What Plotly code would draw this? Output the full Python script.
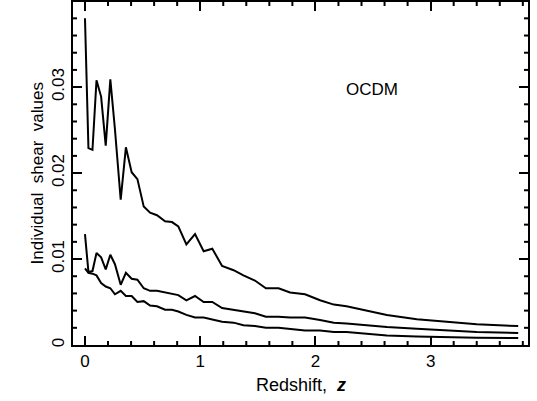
import plotly.graph_objects as go

z = [0, 0.03, 0.065, 0.10, 0.14, 0.18, 0.22, 0.26, 0.31, 0.355, 0.405, 0.455,
     0.51, 0.565, 0.625, 0.695, 0.755, 0.81, 0.88, 0.955, 1.03, 1.105, 1.19,
     1.29, 1.375, 1.475, 1.57, 1.68, 1.78, 1.91, 2.04, 2.16, 2.27, 2.45, 2.62,
     2.88, 3.14, 3.40, 3.76]

shear_top = [0.0380, 0.0229, 0.0227, 0.0308, 0.0289, 0.0232, 0.0309, 0.0251,
             0.0169, 0.0230, 0.0201, 0.0193, 0.0161, 0.0154, 0.0151, 0.0144,
             0.0143, 0.0138, 0.0117, 0.0129, 0.0109, 0.0112, 0.0092, 0.0087,
             0.0081, 0.0075, 0.0066, 0.0066, 0.0061, 0.0059, 0.0052, 0.0047,
             0.0045, 0.0040, 0.0035, 0.0030, 0.0027, 0.0024, 0.0022]

shear_mid = [0.0129, 0.0085, 0.0086, 0.0107, 0.0102, 0.0088, 0.0105, 0.0094,
             0.0070, 0.0084, 0.0077, 0.0076, 0.0066, 0.0063, 0.0063, 0.0061,
             0.0060, 0.0058, 0.0052, 0.0057, 0.0050, 0.0050, 0.0043, 0.0041,
             0.0039, 0.0037, 0.0033, 0.0033, 0.0032, 0.0032, 0.0029, 0.0026,
             0.0025, 0.0023, 0.0021, 0.0019, 0.0017, 0.0015, 0.0014]

shear_low = [0.0089, 0.0084, 0.0083, 0.0081, 0.0072, 0.0068, 0.0066, 0.0059,
             0.0063, 0.0057, 0.0057, 0.0050, 0.0051, 0.0046, 0.0045, 0.0041,
             0.0041, 0.0039, 0.0035, 0.0032, 0.0032, 0.0030, 0.0027, 0.0026,
             0.0023, 0.0022, 0.0020, 0.0020, 0.0019, 0.0017, 0.0017, 0.0015,
             0.0015, 0.0013, 0.0011, 0.0010, 0.0009, 0.00085, 0.0008]

x_minor = [round(0.2 * k, 1) for k in range(1, 20) if k % 5 != 0]
y_minor = [round(0.002 * k, 3) for k in range(1, 20) if k % 5 != 0]

X_RANGE = [-0.104, 3.845]
Y_RANGE = [0, 0.0399]

W, H = 537, 401
ML, MR, MT, MB = 73, 9, 2, 56
PW, PH = W - ML - MR, H - MT - MB
MIN_LEN = 4

FONT = "Liberation Sans, Arial, sans-serif"

fig = go.Figure()
for ys in (shear_top, shear_mid, shear_low):
    fig.add_trace(go.Scatter(x=z, y=ys, mode="lines",
                             line=dict(color="black", width=2),
                             showlegend=False, hoverinfo="skip"))

fig.add_annotation(x=2.487, y=0.0297, xref="x", yref="y", text="OCDM",
                   showarrow=False, font=dict(family=FONT, size=17, color="black"))

fig.add_annotation(x=0.5, y=0, xref="paper", yref="paper", text="Redshift,  <i><b>z</b></i>",
                   showarrow=False, xanchor="center", yanchor="middle", yshift=-40,
                   font=dict(family=FONT, size=18, color="black"))
fig.add_annotation(x=0, y=0.5, xref="paper", yref="paper", text="Individual  shear  values",
                   showarrow=False, xanchor="center", yanchor="middle", xshift=-36, textangle=-90,
                   font=dict(family=FONT, size=17, color="black"))

# short (minor) inside tick marks on all four sides, placed through the axis scales
for v in x_minor:
    fig.add_shape(type="line", xref="x", yref="paper", x0=v, x1=v, y0=0, y1=MIN_LEN / PH,
                  line=dict(color="black", width=2))
    fig.add_shape(type="line", xref="x", yref="paper", x0=v, x1=v, y0=1, y1=1 - MIN_LEN / PH,
                  line=dict(color="black", width=2))
for v in y_minor:
    fig.add_shape(type="line", xref="paper", yref="y", x0=0, x1=MIN_LEN / PW, y0=v, y1=v,
                  line=dict(color="black", width=2))
    fig.add_shape(type="line", xref="paper", yref="y", x0=1, x1=1 - MIN_LEN / PW, y0=v, y1=v,
                  line=dict(color="black", width=2))

fig.update_layout(
    width=W, height=H,
    margin=dict(l=ML, r=MR, t=MT, b=MB),
    paper_bgcolor="white", plot_bgcolor="white",
    font=dict(family=FONT, size=17, color="black"),
    xaxis=dict(
        range=X_RANGE, showgrid=False, zeroline=False,
        showline=True, linecolor="black", linewidth=2, mirror="allticks",
        ticks="inside", ticklen=9, tickwidth=2, tickcolor="black",
        tick0=0, dtick=1, automargin=False,
    ),
    yaxis=dict(
        range=Y_RANGE, showgrid=False, zeroline=False,
        showline=True, linecolor="black", linewidth=2, mirror="allticks",
        ticks="inside", ticklen=9, tickwidth=2, tickcolor="black",
        tick0=0, dtick=0.01, tickangle=-90, automargin=False,
    ),
)

fig.write_html("out.html", config={"displayModeBar": False},
               post_script="document.body.style.margin='0px';")
